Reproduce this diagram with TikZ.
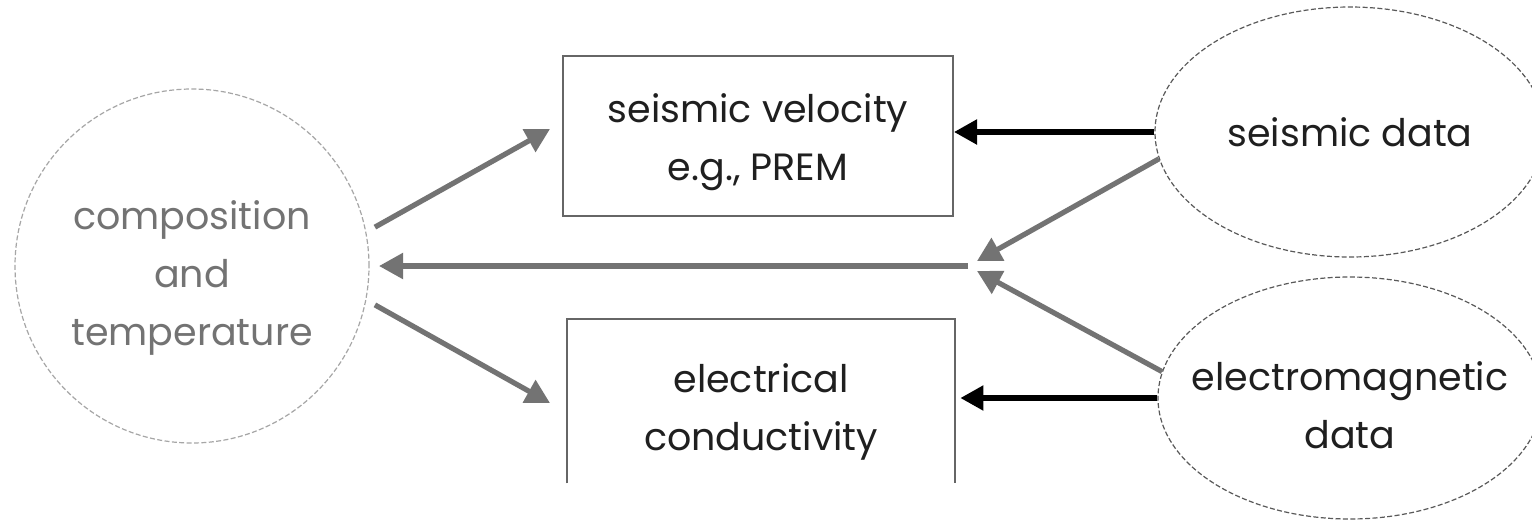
\documentclass[tikz,border=0pt]{standalone}
\usepackage{fontspec}
\setmainfont{Poppins}
\usetikzlibrary{arrows.meta,positioning,calc,shapes.geometric}

\begin{document}
\begin{tikzpicture}[x=0.5pt,y=-0.5pt,
    every node/.style={font=\fontsize{19}{29}\selectfont, align=center, text=black!88},
    dashline/.style={dash pattern=on 2.5pt off 1.2pt, line width=0.6pt},
    graybox/.style={draw=black!60, line width=1pt, minimum width=195pt, inner sep=0pt},
    grayarrow/.style={-{Triangle[length=12pt,width=12.5pt]}, line width=2.6pt, draw=black!55},
    blackarrow/.style={-{Triangle[length=11.5pt,width=12pt]}, line width=2.6pt, draw=black}]
    \clip (0,0) rectangle (1532,526);
    \fill[white] (0,0) rectangle (1532,526);
    \node[circle, dashline, draw=black!35, minimum size=177pt, inner sep=0pt, outer sep=5pt,
        text=black!55, text height=84pt] (comp) at (192,266) {composition\\and\\temperature};
    \node[graybox, minimum height=80pt, text height=50pt] (vel) at (758,136)
        {seismic velocity\\e.g., PREM};
    \node[minimum width=194pt, minimum height=82pt, inner sep=0pt, text height=54pt] (elec)
        at (761,401) {electrical\\conductivity};
    \draw[black!60, line width=1pt] (elec.south west) -- (elec.north west)
        -- (elec.north east) -- (elec.south east);
    \node[ellipse, dashline, draw=black!65, minimum width=195pt, minimum height=125pt,
        inner sep=0pt] (seis) at (1350,132) {seismic data};
    \node[ellipse, dashline, draw=black!65, minimum width=192pt, minimum height=121pt,
        inner ysep=0pt, inner xsep=-12pt, text height=51pt] (em) at (1350,398)
        {electromagnetic\\data};
    \coordinate (velin) at (550,129);
    \coordinate (elecin) at (550,403);
    \coordinate (hub) at (968,266);
    \coordinate (hubup) at (977,261);
    \coordinate (hubdn) at (977,271);
    \draw[grayarrow] (comp.12) -- (velin);
    \draw[grayarrow] (comp.-12) -- (elecin);
    \draw[grayarrow] (hub) -- (comp.east);
    \draw[grayarrow] (seis.188) -- (hubup);
    \draw[grayarrow] (em.172) -- (hubdn);
    \draw[blackarrow] (seis.west) -- (seis.west -| vel.east);
    \draw[blackarrow, shorten >=2.5pt] (em.west) -- (em.west -| elec.east);
\end{tikzpicture}
\end{document}
